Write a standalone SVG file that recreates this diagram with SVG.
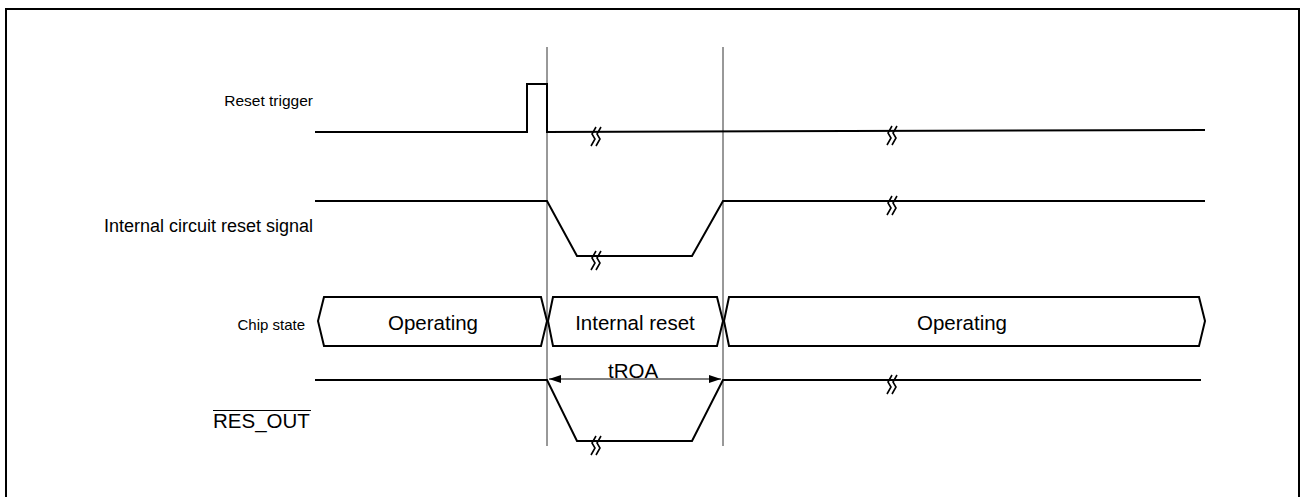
<svg xmlns="http://www.w3.org/2000/svg" width="1301" height="497" viewBox="0 0 1301 497">
<defs>
<style>
.sig{fill:none;stroke:#000;stroke-width:2;stroke-linejoin:miter}
.guide{fill:none;stroke:#333;stroke-width:1}
.brk{fill:none;stroke:#000;stroke-width:1.6}
.box{fill:#fff;stroke:#000;stroke-width:2;stroke-linejoin:miter}
.t{font-family:"Liberation Sans",Arial,sans-serif;fill:#000}
</style>
<marker id="ah" viewBox="0 0 12 10" refX="12" refY="5" markerWidth="12" markerHeight="10" markerUnits="userSpaceOnUse" orient="auto-start-reverse">
<path d="M0,1 L12,5 L0,9 Z" fill="#000"/>
</marker>
<g id="brk"><path class="brk" d="M4,-5 L0,2 L3,7 L-1,14 M9,-5 L5,2 L8,7 L4,14"/></g>
</defs>
<rect x="0" y="0" width="1301" height="497" fill="#fff"/>
<rect id="frame" x="6" y="9" width="1293" height="500" fill="none" stroke="#000" stroke-width="2"/>

<g id="connectors">
<line class="guide" x1="547" y1="47" x2="547" y2="446"/>
<line class="guide" x1="723" y1="47" x2="723" y2="446" stroke-width="1.4"/>
<line x1="549" y1="379" x2="721" y2="379" stroke="#000" stroke-width="1" marker-start="url(#ah)" marker-end="url(#ah)"/>
</g>

<g id="reset-trigger">
<text class="t" x="313" y="106" font-size="15.5" text-anchor="end">Reset trigger</text>
<polyline class="sig" points="315,132 527,132 527,84 547,84 547,132 1205,130"/>
<use href="#brk" x="592" y="132"/>
<use href="#brk" x="888" y="131"/>
</g>

<g id="internal-reset-signal">
<text class="t" x="313" y="232" font-size="18" text-anchor="end">Internal circuit reset signal</text>
<polyline class="sig" points="315,201 547,201 577,256 692,256 723,201 1205,201"/>
<use href="#brk" x="592" y="256"/>
<use href="#brk" x="888" y="201"/>
</g>

<g id="chip-state">
<text class="t" x="305" y="330" font-size="15" text-anchor="end">Chip state</text>
<polygon class="box" points="324,297 541,297 547,321 541,346 324,346 318,321"/>
<polygon class="box" points="553,297 717,297 723,321 717,346 553,346 548,321"/>
<polygon class="box" points="729,297 1199,297 1205,321 1199,346 729,346 724,321"/>
<text class="t" x="433" y="330" font-size="20.5" text-anchor="middle">Operating</text>
<text class="t" x="635" y="330" font-size="20.5" text-anchor="middle">Internal reset</text>
<text class="t" x="962" y="330" font-size="20.5" text-anchor="middle">Operating</text>
</g>

<g id="res-out">
<text class="t" x="213" y="428" font-size="20.5">RES_OUT</text>
<line x1="213" y1="410.5" x2="311" y2="410.5" stroke="#000" stroke-width="1"/>
<polyline class="sig" points="315,380 547,380 577,441 692,441 723,380 1201,380"/>
<use href="#brk" x="592" y="441"/>
<use href="#brk" x="888" y="380"/>
<text class="t" x="633" y="378" font-size="20.5" text-anchor="middle">tROA</text>
</g>
</svg>
